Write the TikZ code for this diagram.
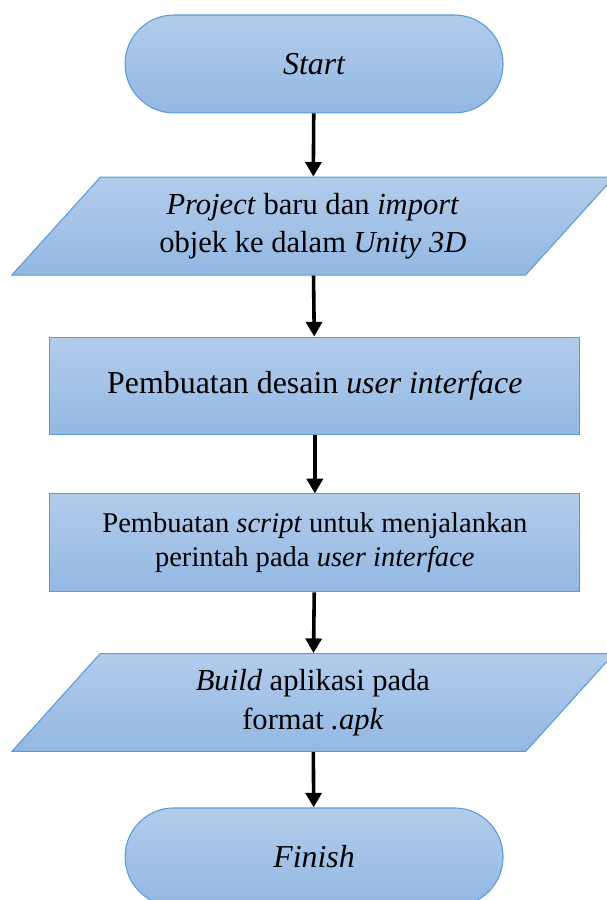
\documentclass[tikz,border=0pt]{standalone}
\usepackage{fontspec}
\setmainfont{Liberation Serif}
\usepackage{tikz}
\usetikzlibrary{arrows.meta,shapes.geometric}
\usepackage{xcolor}

\definecolor{boxtop}{RGB}{178,204,235}
\definecolor{boxbottom}{RGB}{147,184,227}
\definecolor{boxline}{RGB}{91,155,213}

\begin{document}
\begin{tikzpicture}[
    shapebox/.style={draw=boxline,line width=0.8pt,top color=boxtop,bottom color=boxbottom,align=center,text=black,minimum height=2.59cm,inner sep=2pt},
    terminal/.style={shapebox,rectangle,rounded corners=1.29cm,minimum width=10cm,font=\fontsize{24}{28}\selectfont\itshape},
    iobox/.style={shapebox,trapezium,trapezium left angle=39,trapezium right angle=141,trapezium stretches body,minimum width=15.93cm,font=\fontsize{23}{29}\selectfont},
    process/.style={shapebox,rectangle,minimum width=14.02cm},
    flow/.style={-{Triangle[length=11pt,width=12pt]},draw=black,line width=2.7pt}
  ]
    \useasboundingbox (0,0) rectangle (16.034,23.813);

    \node[terminal] (start) at (8.31,22.12) {Start};
    \node[iobox] (project) at (8.28,17.83) {\textit{Project} baru dan \textit{import}\\objek ke dalam \textit{Unity 3D}};
    \node[process,font=\fontsize{24}{27}\selectfont] (desain) at (8.33,13.60) {Pembuatan desain \textit{user interface}};
    \node[process,font=\fontsize{21.5}{25.5}\selectfont] (script) at (8.33,9.45) {Pembuatan \textit{script} untuk menjalankan\\perintah pada \textit{user interface}};
    \node[iobox] (build) at (8.28,5.225) {\textit{Build} aplikasi pada\\format \textit{.apk}};
    \node[terminal] (finish) at (8.31,1.14) {Finish};

    \draw[flow] (start) -- (project);
    \draw[flow] (project) -- (desain);
    \draw[flow] (desain) -- (script);
    \draw[flow] (script) -- (build);
    \draw[flow] (build) -- (finish);
  \end{tikzpicture}
\end{document}
